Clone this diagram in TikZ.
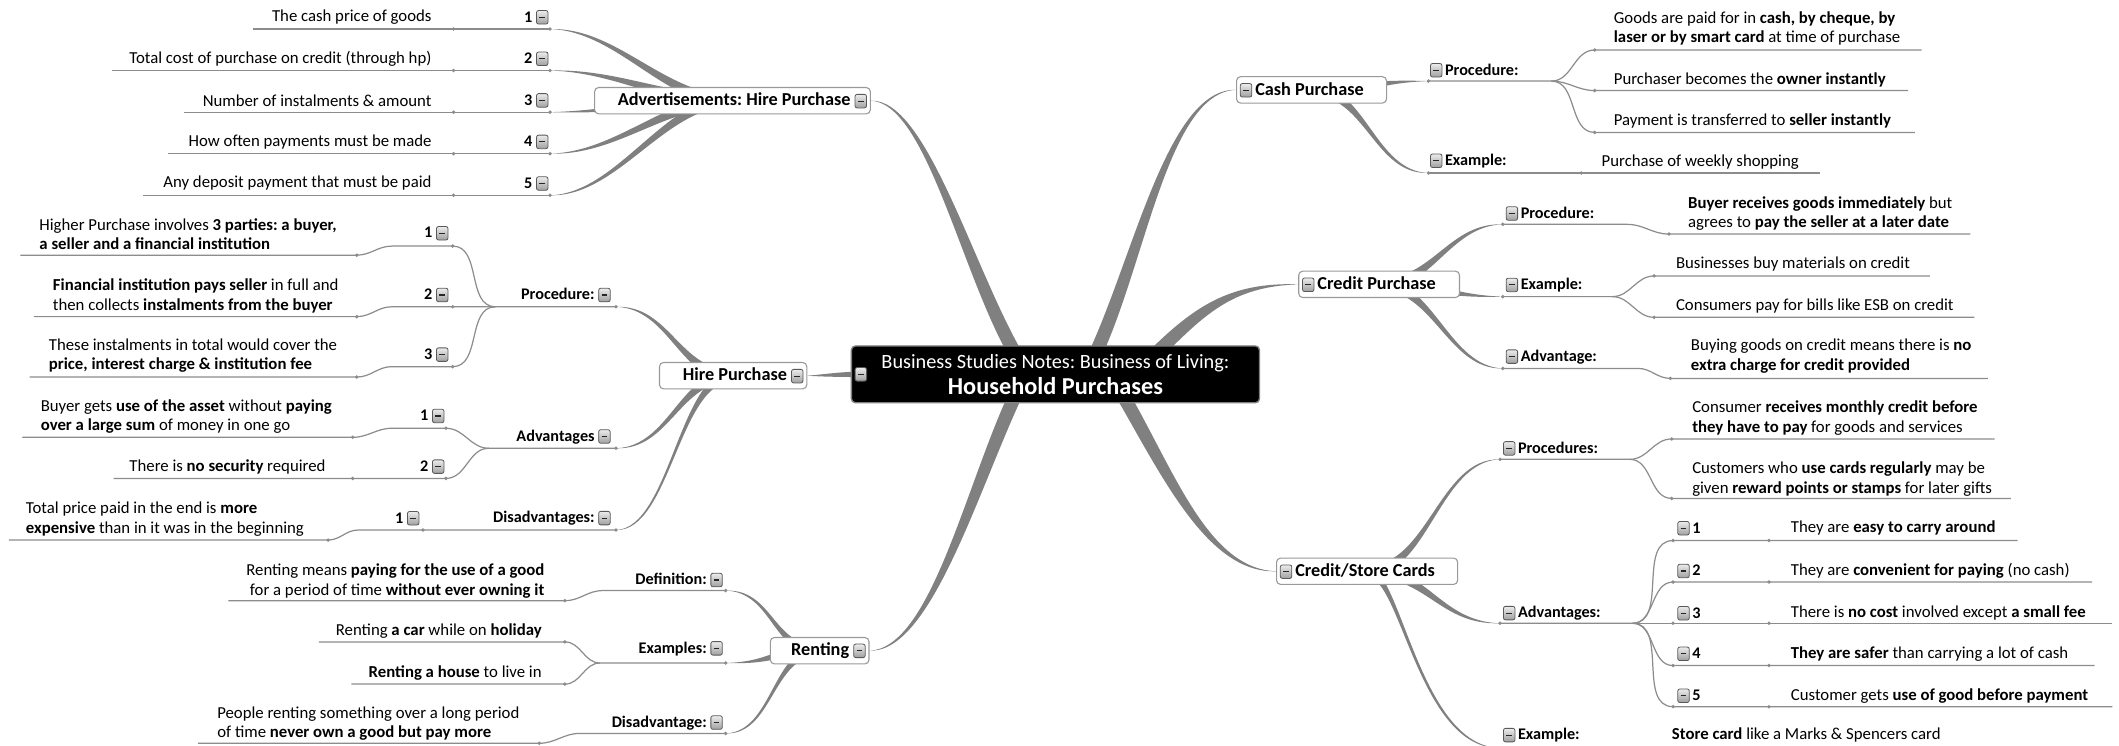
\documentclass[tikz,border=0pt]{standalone}
\usepackage{fontspec}
\setmainfont{Carlito}
\usetikzlibrary{calc,backgrounds}

\definecolor{twiggray}{gray}{0.5}
\definecolor{rulegray}{gray}{0.55}
\definecolor{boxline}{gray}{0.6}

\tikzset{
  leaf/.style={font=\fontsize{12.4}{14.5}\selectfont, inner sep=0pt},
  subtopic/.style={font=\fontsize{12}{14}\selectfont\bfseries, inner sep=0pt},
  maintopic/.style={font=\fontsize{13.5}{16}\selectfont\bfseries, draw=boxline, fill=white,
    rounded corners=3pt, line width=0.8pt, inner xsep=2.5pt, inner ysep=1pt, minimum height=19.5pt},
  centretopic/.style={fill=black, draw=gray, rounded corners=3pt, line width=1pt, text=white,
    align=center, minimum width=302pt, minimum height=42pt, inner sep=0pt},
  uline/.style={draw=rulegray, line width=0.9pt},
  twigfill/.style={fill=twiggray},
  knob/.style={fill=rulegray},
  foldicon/.style={draw=black!65, top color=gray!15, bottom color=gray!75, rounded corners=1.5pt, line width=0.6pt},
  foldminus/.style={draw=black!85, line width=0.8pt}
}

\newcommand{\fold}{\tikz[baseline=1.5pt]{\path[foldicon] (0pt,0pt) rectangle (8.5pt,10pt); \draw[foldminus] (2.2pt,5pt) -- (6.3pt,5pt);}}

\newcommand{\twig}[7]{%
  \fill[twigfill] ($(#1)+(#2+90:#7)$)
    .. controls ($(#1)+(#2+90:#7)+(#2:#3)$) and ($(#4)+(#5:#6)+(#5-90:0.35*#7)$) .. (#4)
    .. controls ($(#4)+(#5:#6)+(#5+90:0.35*#7)$) and ($(#1)+(#2-90:#7)+(#2:#3)$) .. ($(#1)+(#2-90:#7)$) -- cycle;}

\begin{document}
\frenchspacing
\begin{tikzpicture}[x=1pt,y=1pt]
    \useasboundingbox (0,0) rectangle (1568,-552);

    \node[centretopic] (hub) at (781,-277) {{\fontsize{15}{19}\selectfont Business Studies Notes: Business of Living:}\\[3pt]{\fontsize{18}{19}\selectfont\bfseries Household Purchases}};
    \node[inner sep=0pt] (hubfold) at (637,-277) {\fold};

    \node[maintopic, text width=199pt, align=flush right] (adv) at (542,-74.5) {Advertisements: Hire Purchase \fold};
    \node[maintopic, text width=104pt, align=flush right] (hire) at (542.5,-278) {Hire Purchase \fold};
    \node[maintopic, text width=68pt, align=flush right] (rent) at (606.5,-481.5) {Renting \fold};
    \node[maintopic, text width=106pt, align=flush left] (cash) at (970.5,-66.5) {\fold\,Cash Purchase};
    \node[maintopic, text width=114pt, align=flush left] (credit) at (1020.5,-210.4) {\fold\,Credit Purchase};
    \node[maintopic, text width=129pt, align=flush left] (store) at (1011.6,-422.7) {\fold\,Credit/Store Cards};

    \node[subtopic, anchor=east] (adv1n) at (406,-12.8) {1 \fold};
    \node[leaf, anchor=east] (adv1) at (319.5,-12.8) {The cash price of goods};
    \node[subtopic, anchor=east] (adv2n) at (406,-43.5) {2 \fold};
    \node[leaf, anchor=east] (adv2) at (319.5,-43.5) {Total cost of purchase on credit (through hp)};
    \node[subtopic, anchor=east] (adv3n) at (406,-74.3) {3 \fold};
    \node[leaf, anchor=east] (adv3) at (319.5,-74.3) {Number of instalments \& amount};
    \node[subtopic, anchor=east] (adv4n) at (406,-105) {4 \fold};
    \node[leaf, anchor=east] (adv4) at (319.5,-105) {How often payments must be made};
    \node[subtopic, anchor=east] (adv5n) at (406,-135.8) {5 \fold};
    \node[leaf, anchor=east] (adv5) at (319.5,-135.8) {Any deposit payment that must be paid};
    \coordinate (adv1n-d) at (407,-21.5);   \coordinate (adv1-d) at (335.6,-21.5);  \coordinate (adv1-e) at (187,-21.5);
    \coordinate (adv2n-d) at (407,-52.2);   \coordinate (adv2-d) at (335.6,-52.2);  \coordinate (adv2-e) at (83,-52.2);
    \coordinate (adv3n-d) at (407,-83);     \coordinate (adv3-d) at (335.6,-83);    \coordinate (adv3-e) at (136,-83);
    \coordinate (adv4n-d) at (407,-113.7);  \coordinate (adv4-d) at (335.6,-113.7); \coordinate (adv4-e) at (124.5,-113.7);
    \coordinate (adv5n-d) at (407,-144.5);  \coordinate (adv5-d) at (335.6,-144.5); \coordinate (adv5-e) at (106,-144.5);

    \node[subtopic, anchor=east] (hproc) at (452,-218.3) {Procedure: \fold};
    \coordinate (hproc-d) at (455.8,-227); \coordinate (hproc-j) at (366.6,-227);
    \node[subtopic, anchor=east] (hproc1) at (332,-172.6) {1 \fold};
    \coordinate (hproc1-d) at (335,-182.1); \coordinate (hproc1-j) at (290,-182.1);
    \node[leaf, anchor=west, align=left] (hproc1l) at (29,-173.3) {Higher Purchase involves \textbf{3 parties: a buyer,}\\\textbf{a seller and a financial institution}};
    \coordinate (hproc1l-d) at (264,-188.8); \coordinate (hproc1l-e) at (15,-188.8);
    \node[subtopic, anchor=east] (hproc2) at (332,-218.3) {2 \fold};
    \coordinate (hproc2-d) at (335,-227); \coordinate (hproc2-j) at (290,-227);
    \node[leaf, anchor=west, align=left] (hproc2l) at (39,-219) {\textbf{Financial institution pays seller} in full and\\then collects \textbf{instalments from the buyer}};
    \coordinate (hproc2l-d) at (264,-234.3); \coordinate (hproc2l-e) at (25,-234.3);
    \node[subtopic, anchor=east] (hproc3) at (332,-262.4) {3 \fold};
    \coordinate (hproc3-d) at (335,-271.3); \coordinate (hproc3-j) at (290,-271.3);
    \node[leaf, anchor=west, align=left] (hproc3l) at (36,-263) {These instalments in total would cover the\\\textbf{price, interest charge \& institution fee}};
    \coordinate (hproc3l-d) at (264,-279); \coordinate (hproc3l-e) at (22,-279);

    \node[subtopic, anchor=east] (hadv) at (452,-323.1) {Advantages \fold};
    \coordinate (hadv-d) at (455.8,-331.7); \coordinate (hadv-j) at (361.7,-331.7);
    \node[subtopic, anchor=east] (hadv1) at (329,-307.8) {1 \fold};
    \coordinate (hadv1-d) at (330,-316.9); \coordinate (hadv1-j) at (290,-316.9);
    \node[leaf, anchor=west, align=left] (hadv1l) at (30,-308.3) {Buyer gets \textbf{use of the asset} without \textbf{paying}\\\textbf{over a large sum} of money in one go};
    \coordinate (hadv1l-d) at (261,-323.6); \coordinate (hadv1l-e) at (16.5,-323.6);
    \node[subtopic, anchor=east] (hadv2) at (329,-345.3) {2 \fold};
    \coordinate (hadv2-d) at (330,-354);
    \node[leaf, anchor=east] (hadv2l) at (241,-345.3) {There is \textbf{no security} required};
    \coordinate (hadv2l-d) at (261,-354); \coordinate (hadv2l-e) at (84,-354);

    \node[subtopic, anchor=east] (hdis) at (452,-383.5) {Disadvantages: \fold};
    \coordinate (hdis-d) at (455.8,-392.2);
    \node[subtopic, anchor=east] (hdis1) at (310.5,-383.5) {1 \fold};
    \coordinate (hdis1-d) at (313,-392.2); \coordinate (hdis1-j) at (265,-392.2);
    \node[leaf, anchor=west, align=left] (hdis1l) at (19,-384) {Total price paid in the end is \textbf{more}\\\textbf{expensive} than in it was in the beginning};
    \coordinate (hdis1l-d) at (242.8,-399.6); \coordinate (hdis1l-e) at (6.6,-399.6);

    \node[subtopic, anchor=east] (rdef) at (535,-429.2) {Definition: \fold};
    \coordinate (rdef-d) at (537,-437); \coordinate (rdef-j) at (446,-437);
    \node[leaf, anchor=east, align=right] (rdef1) at (403,-430) {Renting means \textbf{paying for the use of a good}\\for a period of time \textbf{without ever owning it}};
    \coordinate (rdef1-d) at (418,-444.5); \coordinate (rdef1-e) at (169,-444.5);
    \node[subtopic, anchor=east] (rex) at (535,-479.8) {Examples: \fold};
    \coordinate (rex-d) at (537,-490.6); \coordinate (rex-j) at (444,-490.6);
    \node[leaf, anchor=east] (rex1) at (401,-466.6) {Renting \textbf{a car} while on \textbf{holiday}};
    \coordinate (rex1-d) at (418,-475); \coordinate (rex1-e) at (236,-475);
    \node[leaf, anchor=east] (rex2) at (401,-497.8) {\textbf{Renting a house} to live in};
    \coordinate (rex2-d) at (418,-506.2); \coordinate (rex2-e) at (260,-506.2);
    \node[subtopic, anchor=east] (rdis) at (535,-534.8) {Disadvantage: \fold};
    \coordinate (rdis-d) at (537,-542.7); \coordinate (rdis-j) at (429,-542.7);
    \node[leaf, anchor=west, align=left] (rdis1) at (160.6,-535.3) {People renting something over a long period\\of time \textbf{never own a good but pay more}};
    \coordinate (rdis1-d) at (399,-550); \coordinate (rdis1-e) at (146.6,-550);

    \node[subtopic, anchor=west] (cproc) at (1058,-52) {\fold\,Procedure:};
    \coordinate (cproc-d) at (1057,-60); \coordinate (cproc-j) at (1148,-60);
    \node[leaf, anchor=west, align=left] (cproc1) at (1194,-21) {Goods are paid for in \textbf{cash, by cheque, by}\\\textbf{laser or by smart card} at time of purchase};
    \coordinate (cproc1-d) at (1180,-37); \coordinate (cproc1-e) at (1422,-37);
    \node[leaf, anchor=west] (cproc2) at (1194,-59) {Purchaser becomes the \textbf{owner instantly}};
    \coordinate (cproc2-d) at (1180,-67); \coordinate (cproc2-e) at (1412,-67);
    \node[leaf, anchor=west] (cproc3) at (1194,-89.5) {Payment is transferred to \textbf{seller instantly}};
    \coordinate (cproc3-d) at (1180,-98); \coordinate (cproc3-e) at (1417,-98);
    \node[subtopic, anchor=west] (cex) at (1058,-119) {\fold\,Example:};
    \coordinate (cex-d) at (1057,-128);
    \node[leaf, anchor=west] (cex1) at (1185,-120) {Purchase of weekly shopping};
    \coordinate (cex1-d) at (1170,-128); \coordinate (cex1-e) at (1347,-128);

    \node[subtopic, anchor=west] (kproc) at (1114,-158) {\fold\,Procedure:};
    \coordinate (kproc-d) at (1112,-166); \coordinate (kproc-j) at (1204,-166);
    \node[leaf, anchor=west, align=left] (kproc1) at (1249,-158) {\textbf{Buyer receives goods immediately} but\\agrees to \textbf{pay the seller at a later date}};
    \coordinate (kproc1-d) at (1235,-173.2); \coordinate (kproc1-e) at (1458,-173.2);
    \node[subtopic, anchor=west] (kex) at (1114,-210.9) {\fold\,Example:};
    \coordinate (kex-d) at (1112,-219.5); \coordinate (kex-j) at (1193,-219.5);
    \node[leaf, anchor=west] (kex1) at (1240,-195.3) {Businesses buy materials on credit};
    \coordinate (kex1-d) at (1224,-204.2); \coordinate (kex1-e) at (1428,-204.2);
    \node[leaf, anchor=west] (kex2) at (1240,-226.4) {Consumers pay for bills like ESB on credit};
    \coordinate (kex2-d) at (1224,-234.8); \coordinate (kex2-e) at (1461,-234.8);
    \node[subtopic, anchor=west] (kadv) at (1114,-264) {\fold\,Advantage:};
    \coordinate (kadv-d) at (1112,-272.6); \coordinate (kadv-j) at (1212,-272.6);
    \node[leaf, anchor=west, align=left] (kadv1) at (1251,-263.7) {Buying goods on credit means there is \textbf{no}\\\textbf{extra charge for credit provided}};
    \coordinate (kadv1-d) at (1236,-280); \coordinate (kadv1-e) at (1471,-280);

    \node[subtopic, anchor=west] (sproc) at (1112,-331.8) {\fold\,Procedures:};
    \coordinate (sproc-d) at (1110,-339.9); \coordinate (sproc-j) at (1206,-339.9);
    \node[leaf, anchor=west, align=left] (sproc1) at (1252,-309.2) {Consumer \textbf{receives monthly credit before}\\\textbf{they have to pay} for goods and services};
    \coordinate (sproc1-d) at (1237,-324.8); \coordinate (sproc1-e) at (1476,-324.8);
    \node[leaf, anchor=west, align=left] (sproc2) at (1252,-354.7) {Customers who \textbf{use cards regularly} may be\\given \textbf{reward points or stamps} for later gifts};
    \coordinate (sproc2-d) at (1237,-368.8); \coordinate (sproc2-e) at (1488,-368.8);

    \node[subtopic, anchor=west] (sadv) at (1112,-453.8) {\fold\,Advantages:};
    \coordinate (sadv-d) at (1110,-461.2); \coordinate (sadv-j) at (1208,-461.2);
    \node[subtopic, anchor=west] (sadv1) at (1241,-390.9) {\fold\,1};
    \node[leaf, anchor=west] (sadv1l) at (1325,-390.9) {They are \textbf{easy to carry around}};
    \node[subtopic, anchor=west] (sadv2) at (1241,-422.5) {\fold\,2};
    \node[leaf, anchor=west] (sadv2l) at (1325,-422.5) {They are \textbf{convenient for paying} (no cash)};
    \node[subtopic, anchor=west] (sadv3) at (1241,-453.8) {\fold\,3};
    \node[leaf, anchor=west] (sadv3l) at (1325,-453.8) {There is \textbf{no cost} involved except \textbf{a small fee}};
    \node[subtopic, anchor=west] (sadv4) at (1241,-483.8) {\fold\,4};
    \node[leaf, anchor=west] (sadv4l) at (1325,-483.8) {\textbf{They are safer} than carrying a lot of cash};
    \node[subtopic, anchor=west] (sadv5) at (1241,-514.8) {\fold\,5};
    \node[leaf, anchor=west] (sadv5l) at (1325,-514.8) {Customer gets \textbf{use of good before payment}};
    \coordinate (sadv1-d) at (1238,-400);   \coordinate (sadv1l-d) at (1309,-400);   \coordinate (sadv1l-e) at (1493,-400);
    \coordinate (sadv2-d) at (1238,-430.7); \coordinate (sadv2l-d) at (1309,-430.7); \coordinate (sadv2l-e) at (1548,-430.7);
    \coordinate (sadv3-d) at (1238,-461.2); \coordinate (sadv3l-d) at (1309,-461.2); \coordinate (sadv3l-e) at (1563,-461.2);
    \coordinate (sadv4-d) at (1238,-492.5); \coordinate (sadv4l-d) at (1309,-492.5); \coordinate (sadv4l-e) at (1550,-492.5);
    \coordinate (sadv5-d) at (1238,-522.9); \coordinate (sadv5l-d) at (1309,-522.9); \coordinate (sadv5l-e) at (1563,-522.9);

    \node[subtopic, anchor=west] (sex) at (1112,-544) {\fold\,Example:};
    \coordinate (sex-d) at (1110,-553.5);
    \node[leaf, anchor=west] (sex1) at (1237,-544) {\textbf{Store card} like a Marks \& Spencers card};
    \coordinate (sex1-d) at (1222,-553.5); \coordinate (sex1-e) at (1452,-553.5);

    \coordinate (hub-adv) at (752,-263);
    \coordinate (hub-cash) at (810,-263);
    \coordinate (hub-credit) at (852,-265);
    \coordinate (hub-store) at (830,-291);
    \coordinate (hub-rent) at (752,-291);

    \begin{pgfonlayer}{background}
        \twig{hub-adv}{120}{74pt}{adv.east}{0}{41pt}{5pt}
        \twig{hub-cash}{65}{80pt}{cash.west}{180}{50pt}{5pt}
        \twig{hub-credit}{45}{50pt}{credit.west}{180}{50pt}{5pt}
        \twig{hub-store}{-60}{70pt}{store.west}{180}{50pt}{5pt}
        \twig{hub-rent}{245}{80pt}{rent.east}{0}{45pt}{5pt}
        \twig{hubfold.center}{180}{15pt}{hire.east}{0}{10pt}{2pt}

        \twig{adv.center}{180}{50pt}{adv1n-d}{0}{50pt}{4pt}
        \twig{adv.center}{180}{50pt}{adv2n-d}{0}{50pt}{4pt}
        \twig{adv.center}{180}{50pt}{adv3n-d}{0}{50pt}{4pt}
        \twig{adv.center}{180}{50pt}{adv4n-d}{0}{50pt}{4pt}
        \twig{adv.center}{180}{50pt}{adv5n-d}{0}{50pt}{4pt}
        \twig{hire.center}{180}{40pt}{hproc-d}{0}{40pt}{4pt}
        \twig{hire.center}{180}{40pt}{hadv-d}{0}{40pt}{4pt}
        \twig{hire.center}{180}{40pt}{hdis-d}{0}{40pt}{4pt}
        \twig{rent.center}{180}{35pt}{rdef-d}{0}{35pt}{3.5pt}
        \twig{rent.center}{180}{35pt}{rex-d}{0}{35pt}{3.5pt}
        \twig{rent.center}{180}{35pt}{rdis-d}{0}{35pt}{3.5pt}
        \twig{cash.center}{0}{40pt}{cproc-d}{180}{40pt}{4pt}
        \twig{cash.center}{0}{40pt}{cex-d}{180}{40pt}{4pt}
        \twig{credit.center}{0}{40pt}{kproc-d}{180}{40pt}{4pt}
        \twig{credit.center}{0}{40pt}{kex-d}{180}{40pt}{4pt}
        \twig{credit.center}{0}{40pt}{kadv-d}{180}{40pt}{4pt}
        \twig{store.center}{0}{45pt}{sproc-d}{180}{45pt}{4pt}
        \twig{store.center}{0}{45pt}{sadv-d}{180}{45pt}{4pt}
        \twig{store.center}{0}{25pt}{sex-d}{180}{60pt}{4pt}

        \draw[uline] (adv1-e) -- (adv1-d) -- (adv1n-d);
        \draw[uline] (adv2-e) -- (adv2-d) -- (adv2n-d);
        \draw[uline] (adv3-e) -- (adv3-d) -- (adv3n-d);
        \draw[uline] (adv4-e) -- (adv4-d) -- (adv4n-d);
        \draw[uline] (adv5-e) -- (adv5-d) -- (adv5n-d);

        \draw[uline] (hproc1l-e) -- (hproc1l-d) to[out=0,in=180] (hproc1-j) -- (hproc1-d) to[out=0,in=180] (hproc-j) -- (hproc-d);
        \draw[uline] (hproc2l-e) -- (hproc2l-d) to[out=0,in=180] (hproc2-j) -- (hproc2-d) -- (hproc-j);
        \draw[uline] (hproc3l-e) -- (hproc3l-d) to[out=0,in=180] (hproc3-j) -- (hproc3-d) to[out=0,in=180] (hproc-j);
        \draw[uline] (hadv1l-e) -- (hadv1l-d) to[out=0,in=180] (hadv1-j) -- (hadv1-d) to[out=0,in=180] (hadv-j) -- (hadv-d);
        \draw[uline] (hadv2l-e) -- (hadv2l-d) -- (hadv2-d) to[out=0,in=180] (hadv-j);
        \draw[uline] (hdis1l-e) -- (hdis1l-d) to[out=0,in=180] (hdis1-j) -- (hdis1-d) -- (hdis-d);

        \draw[uline] (rdef1-e) -- (rdef1-d) to[out=0,in=180] (rdef-j) -- (rdef-d);
        \draw[uline] (rex1-e) -- (rex1-d) to[out=0,in=180] (rex-j) -- (rex-d);
        \draw[uline] (rex2-e) -- (rex2-d) to[out=0,in=180] (rex-j);
        \draw[uline] (rdis1-e) -- (rdis1-d) to[out=0,in=180] (rdis-j) -- (rdis-d);

        \draw[uline] (cproc-d) -- (cproc-j) to[out=0,in=180] (cproc1-d) -- (cproc1-e);
        \draw[uline] (cproc-j) to[out=0,in=180] (cproc2-d) -- (cproc2-e);
        \draw[uline] (cproc-j) to[out=0,in=180] (cproc3-d) -- (cproc3-e);
        \draw[uline] (cex-d) -- (cex1-d) -- (cex1-e);

        \draw[uline] (kproc-d) -- (kproc-j) to[out=0,in=180] (kproc1-d) -- (kproc1-e);
        \draw[uline] (kex-d) -- (kex-j) to[out=0,in=180] (kex1-d) -- (kex1-e);
        \draw[uline] (kex-j) to[out=0,in=180] (kex2-d) -- (kex2-e);
        \draw[uline] (kadv-d) -- (kadv-j) to[out=0,in=180] (kadv1-d) -- (kadv1-e);

        \draw[uline] (sproc-d) -- (sproc-j) to[out=0,in=180] (sproc1-d) -- (sproc1-e);
        \draw[uline] (sproc-j) to[out=0,in=180] (sproc2-d) -- (sproc2-e);
        \draw[uline] (sadv-d) -- (sadv-j) to[out=0,in=180] (sadv1-d) -- (sadv1l-d) -- (sadv1l-e);
        \draw[uline] (sadv-j) to[out=0,in=180] (sadv2-d) -- (sadv2l-d) -- (sadv2l-e);
        \draw[uline] (sadv-j) -- (sadv3-d) -- (sadv3l-d) -- (sadv3l-e);
        \draw[uline] (sadv-j) to[out=0,in=180] (sadv4-d) -- (sadv4l-d) -- (sadv4l-e);
        \draw[uline] (sadv-j) to[out=0,in=180] (sadv5-d) -- (sadv5l-d) -- (sadv5l-e);
        \draw[uline] (sex-d) -- (sex1-d) -- (sex1-e);

        \fill[knob] (adv1n-d) circle (1.4pt) (adv2n-d) circle (1.4pt) (adv3n-d) circle (1.4pt) (adv4n-d) circle (1.4pt) (adv5n-d) circle (1.4pt);
        \fill[knob] (adv1-d) circle (1.4pt) (adv2-d) circle (1.4pt) (adv3-d) circle (1.4pt) (adv4-d) circle (1.4pt) (adv5-d) circle (1.4pt);
        \fill[knob] (hproc-d) circle (1.4pt) (hproc1-d) circle (1.4pt) (hproc2-d) circle (1.4pt) (hproc3-d) circle (1.4pt);
        \fill[knob] (hproc1l-d) circle (1.4pt) (hproc2l-d) circle (1.4pt) (hproc3l-d) circle (1.4pt);
        \fill[knob] (hadv-d) circle (1.4pt) (hadv1-d) circle (1.4pt) (hadv2-d) circle (1.4pt) (hadv1l-d) circle (1.4pt) (hadv2l-d) circle (1.4pt);
        \fill[knob] (hdis-d) circle (1.4pt) (hdis1-d) circle (1.4pt) (hdis1l-d) circle (1.4pt);
        \fill[knob] (rdef-d) circle (1.4pt) (rdef1-d) circle (1.4pt) (rex-d) circle (1.4pt) (rex1-d) circle (1.4pt) (rex2-d) circle (1.4pt) (rdis-d) circle (1.4pt) (rdis1-d) circle (1.4pt);
        \fill[knob] (cproc-d) circle (1.4pt) (cproc1-d) circle (1.4pt) (cproc2-d) circle (1.4pt) (cproc3-d) circle (1.4pt) (cex-d) circle (1.4pt) (cex1-d) circle (1.4pt);
        \fill[knob] (kproc-d) circle (1.4pt) (kproc1-d) circle (1.4pt) (kex-d) circle (1.4pt) (kex1-d) circle (1.4pt) (kex2-d) circle (1.4pt) (kadv-d) circle (1.4pt) (kadv1-d) circle (1.4pt);
        \fill[knob] (sproc-d) circle (1.4pt) (sproc1-d) circle (1.4pt) (sproc2-d) circle (1.4pt) (sadv-d) circle (1.4pt) (sex-d) circle (1.4pt) (sex1-d) circle (1.4pt);
        \fill[knob] (sadv1-d) circle (1.4pt) (sadv2-d) circle (1.4pt) (sadv3-d) circle (1.4pt) (sadv4-d) circle (1.4pt) (sadv5-d) circle (1.4pt);
        \fill[knob] (sadv1l-d) circle (1.4pt) (sadv2l-d) circle (1.4pt) (sadv3l-d) circle (1.4pt) (sadv4l-d) circle (1.4pt) (sadv5l-d) circle (1.4pt);
    \end{pgfonlayer}
\end{tikzpicture}
\end{document}
